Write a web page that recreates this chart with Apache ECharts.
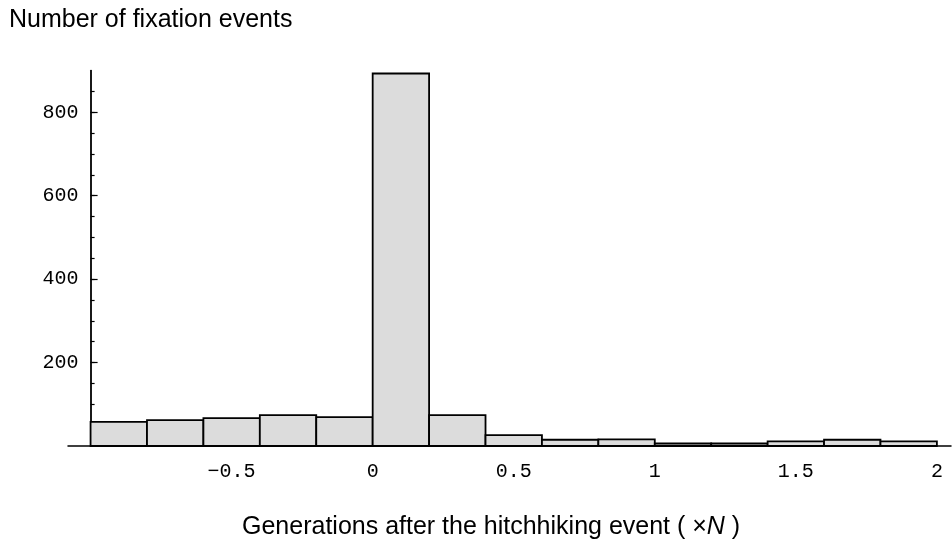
<!DOCTYPE html>
<html>
<head>
<meta charset="utf-8">
<script src="https://cdn.jsdelivr.net/npm/echarts@6/dist/echarts.min.js"></script>
<style>html,body{margin:0;padding:0;background:#fff;}#c{width:952px;height:541px;}</style>
</head>
<body>
<div id="c"></div>
<script>
var binStart = [-1.0, -0.8, -0.6, -0.4, -0.2, 0.0, 0.2, 0.4, 0.6, 0.8, 1.0, 1.2, 1.4, 1.6, 1.8];
var binEnd   = [-0.8, -0.6, -0.4, -0.2, 0.0, 0.2, 0.4, 0.6, 0.8, 1.0, 1.2, 1.4, 1.6, 1.8, 2.0];
var counts   = [58, 62, 67, 74, 69, 893, 74, 26, 15, 16, 6, 6, 11, 15, 11];
var xTickLabels = [-0.5, 0, 0.5, 1, 1.5, 2];
var yTickLabels = [200, 400, 600, 800];
var yMinorTicks = [50, 100, 150, 200, 250, 300, 350, 400, 450, 500, 550, 600, 650, 700, 750, 800, 850];

var data = binStart.map(function (s, i) { return [s, binEnd[i], counts[i]]; });
var chart = echarts.init(document.getElementById('c'), null, {renderer: 'canvas'});
var mono = 'Liberation Mono';
var sans = 'Liberation Sans';
chart.setOption({
  animation: false,
  backgroundColor: '#fff',
  title: [
    {text: 'Number of fixation events', left: 9, top: 8, padding: 0,
     textStyle: {fontFamily: sans, fontSize: 25, fontWeight: 'normal', color: '#000'}},
    {text: '{a|Generations after the hitchhiking event ( ×}{i|N}{a| )}', left: 242, top: 515, padding: 0,
     textStyle: {fontWeight: 'normal', rich: {
       a: {fontFamily: sans, fontSize: 25, fontWeight: 'normal', color: '#000'},
       i: {fontFamily: sans, fontSize: 25, fontWeight: 'normal', fontStyle: 'italic', color: '#000'}
     }}}
  ],
  grid: {left: 68, right: 1, top: 70.6, height: 375.4, containLabel: false},
  xAxis: {
    type: 'value', min: -1.08, max: 2.05,
    axisLine: {show: true, onZero: false, lineStyle: {color: '#000', width: 1.5}},
    axisTick: {show: false},
    splitLine: {show: false},
    axisLabel: {
      customValues: xTickLabels, margin: 16, color: '#000',
      fontFamily: mono, fontSize: 20,
      formatter: function (v) { return String(v).replace('-', '\u2212'); }
    }
  },
  yAxis: [
    {
      type: 'value', position: 'left', min: 0, max: 900, interval: 50, offset: -22.6,
      axisLine: {show: true, onZero: false, lineStyle: {color: '#000', width: 1.8}},
      axisTick: {show: true, inside: true, length: 4, customValues: yMinorTicks,
        lineStyle: {color: '#000', width: 1.2}},
      splitLine: {show: false},
      axisLabel: {customValues: yTickLabels, margin: 12, color: '#000', fontFamily: mono, fontSize: 20}
    },
    {
      type: 'value', position: 'left', min: 0, max: 900, interval: 100, offset: -22.6,
      axisLine: {show: false, onZero: false},
      axisTick: {show: true, inside: true, length: 7,
        customValues: yTickLabels, lineStyle: {color: '#000', width: 1.2}},
      splitLine: {show: false},
      axisLabel: {show: false}
    }
  ],
  series: [{
    type: 'custom',
    xAxisIndex: 0, yAxisIndex: 0,
    data: data,
    encode: {x: [0, 1], y: 2},
    renderItem: function (params, api) {
      var p0 = api.coord([api.value(0), api.value(2)]);
      var p1 = api.coord([api.value(1), 0]);
      return {
        type: 'rect',
        shape: {x: p0[0], y: p0[1], width: p1[0] - p0[0], height: p1[1] - p0[1]},
        style: {fill: '#dcdcdc', stroke: '#000', lineWidth: 1.8}
      };
    }
  }]
});
</script>
</body>
</html>
